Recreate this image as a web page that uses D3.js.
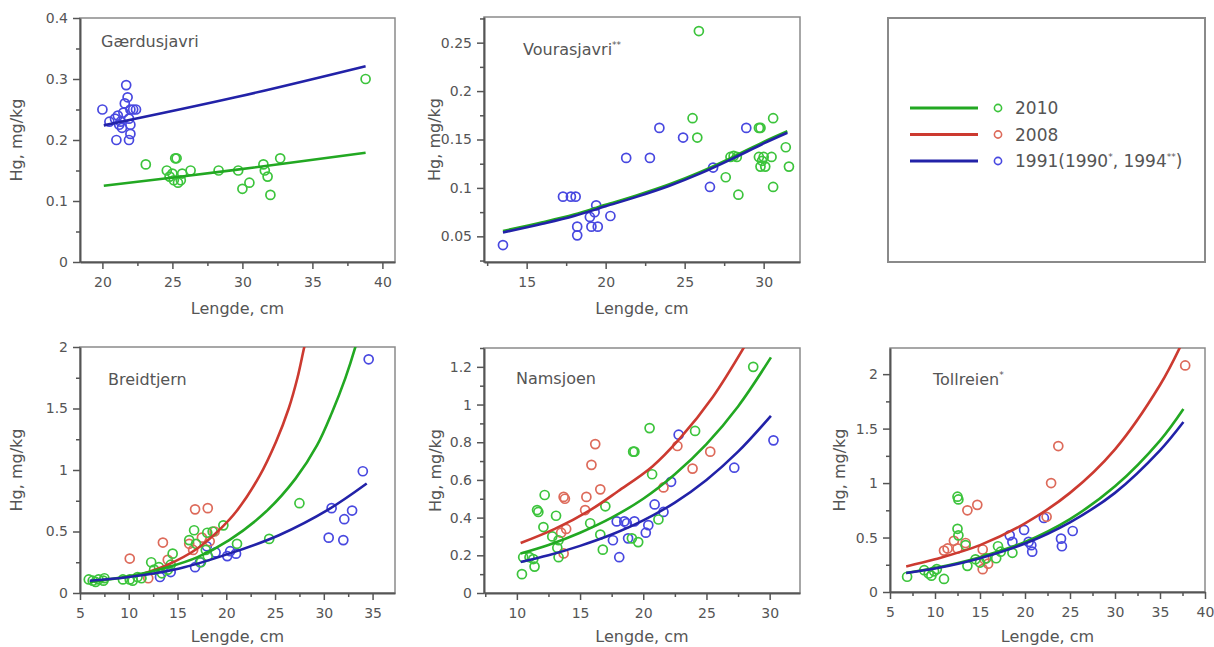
<!DOCTYPE html>
<html><head><meta charset="utf-8">
<script src="https://cdn.jsdelivr.net/npm/d3@7"></script>
<style>
body{margin:0;background:#fff}
svg{display:block;font-family:"DejaVu Sans",Verdana,sans-serif}
</style>
</head><body>
<svg id="chart" width="1214" height="647"></svg>
<script>
// ---------------- DATA ----------------
const seriesNames = ["2010", "2008", "1991(1990*, 1994**)"];

// Gærdusjavri
const gaerXTicks = [20, 25, 30, 35, 40];
const gaerYTicks = [0, 0.1, 0.2, 0.3, 0.4];
const gaer2010 = [[23.1,0.16],[24.6,0.15],[24.8,0.14],[25.0,0.145],[25.1,0.134],[25.2,0.17],[25.3,0.17],[25.4,0.13],[25.6,0.134],[25.7,0.145],[26.3,0.15],[28.3,0.15],[29.7,0.15],[30.0,0.12],[30.5,0.13],[31.5,0.16],[31.6,0.15],[31.8,0.14],[32.0,0.11],[32.7,0.17],[38.8,0.30]];
const gaer1991 = [[20.0,0.25],[20.5,0.23],[20.9,0.235],[21.0,0.20],[21.1,0.24],[21.2,0.225],[21.3,0.23],[21.4,0.22],[21.5,0.245],[21.6,0.26],[21.7,0.29],[21.8,0.27],[21.9,0.20],[21.9,0.235],[22.0,0.21],[22.0,0.25],[22.2,0.25],[22.4,0.25],[22.0,0.225]];
const gaerFit2010 = [[20.1,0.125],[29.5,0.151],[38.8,0.179]];
const gaerFit1991 = [[20.1,0.224],[29.5,0.27],[38.8,0.321]];

// Vourasjavri
const vourXTicks = [15, 20, 25, 30];
const vourYTicks = [0.05, 0.1, 0.15, 0.2, 0.25];
const vour2010 = [[25.5,0.172],[25.8,0.152],[25.9,0.262],[27.6,0.111],[27.9,0.132],[28.1,0.133],[28.3,0.132],[28.4,0.093],[29.7,0.162],[29.8,0.162],[29.7,0.132],[29.8,0.122],[29.9,0.128],[30.0,0.132],[30.1,0.122],[30.5,0.132],[30.6,0.172],[30.6,0.101],[31.4,0.142],[31.6,0.122]];
const vour1994 = [[13.5,0.041],[17.3,0.091],[17.8,0.091],[18.1,0.091],[18.2,0.060],[18.2,0.051],[19.0,0.070],[19.1,0.060],[19.3,0.075],[19.4,0.082],[19.5,0.060],[20.3,0.071],[21.3,0.131],[22.8,0.131],[23.4,0.162],[24.9,0.152],[26.6,0.101],[26.8,0.121],[28.9,0.162]];
const vourFit2010 = [[13.5,0.0555],[16,0.0645],[18,0.0725],[20,0.0825],[22,0.0925],[24,0.1035],[26,0.1165],[28,0.1315],[30,0.1475],[31.5,0.1585]];
const vourFit1994 = [[13.5,0.054],[16,0.063],[18,0.071],[20,0.081],[22,0.091],[24,0.102],[26,0.115],[28,0.130],[30,0.146],[31.5,0.157]];

// Breidtjern
const breiXTicks = [5, 10, 15, 20, 25, 30, 35];
const breiYTicks = [0, 0.5, 1, 1.5, 2];
const brei2010 = [[5.9,0.11],[6.3,0.10],[6.6,0.09],[6.9,0.11],[7.4,0.10],[7.5,0.12],[9.4,0.11],[10.1,0.11],[10.4,0.10],[10.9,0.13],[11.3,0.12],[12.3,0.25],[12.6,0.19],[13.1,0.21],[13.4,0.16],[14.0,0.19],[14.3,0.23],[14.5,0.32],[16.2,0.43],[16.7,0.51],[16.9,0.40],[17.4,0.25],[17.9,0.35],[18.05,0.49],[18.1,0.30],[18.6,0.50],[19.7,0.55],[21.1,0.40],[24.4,0.44],[27.5,0.73]];
const brei2008 = [[10.1,0.28],[12.0,0.12],[13.5,0.41],[14.0,0.27],[16.2,0.40],[16.6,0.35],[16.8,0.68],[17.5,0.45],[18.1,0.69],[18.3,0.42],[18.8,0.50]];
const brei1991 = [[13.2,0.13],[14.3,0.17],[16.8,0.21],[17.3,0.25],[18.0,0.38],[18.9,0.33],[20.1,0.30],[20.4,0.34],[21.0,0.32],[30.5,0.45],[30.8,0.69],[32.0,0.43],[32.1,0.60],[32.9,0.67],[34.0,0.99],[34.6,1.90]];
const breiFit2010 = [[6,0.09],[10,0.135],[14,0.21],[17,0.29],[20.3,0.43],[24.05,0.66],[27.1,0.93],[29.3,1.2],[30.85,1.47],[32.2,1.745],[33.2,1.99],[33.4,2.05]];
const breiFit2008 = [[11.4,0.155],[14,0.23],[17,0.36],[19.5,0.53],[21,0.66],[23.4,0.95],[25.1,1.23],[26.4,1.5],[27.3,1.75],[28.0,2.0],[28.2,2.06]];
const breiFit1991 = [[6,0.1],[10,0.13],[15.2,0.2],[20.3,0.32],[25.4,0.47],[30.5,0.68],[34.4,0.89]];

// Namsjøen
const namsXTicks = [10, 15, 20, 25, 30];
const namsYTicks = [0, 0.2, 0.4, 0.6, 0.8, 1, 1.2];
const nams2010 = [[10.4,0.10],[10.5,0.19],[11.0,0.19],[11.3,0.18],[11.4,0.14],[11.6,0.44],[11.7,0.43],[12.1,0.35],[12.2,0.52],[12.8,0.30],[13.1,0.41],[13.2,0.24],[13.3,0.19],[13.3,0.28],[15.8,0.37],[16.6,0.31],[16.8,0.23],[17.0,0.46],[19.1,0.29],[19.2,0.75],[19.3,0.75],[19.6,0.27],[20.5,0.875],[20.7,0.63],[21.2,0.39],[24.1,0.86],[28.7,1.20]];
const nams2008 = [[13.5,0.32],[13.7,0.21],[13.7,0.51],[13.8,0.50],[13.9,0.34],[15.4,0.44],[15.5,0.51],[15.9,0.68],[16.2,0.79],[16.6,0.55],[21.6,0.56],[22.7,0.78],[23.9,0.66],[25.3,0.75]];
const nams1991 = [[17.6,0.28],[17.9,0.38],[18.1,0.19],[18.5,0.38],[18.7,0.37],[18.8,0.29],[19.3,0.38],[20.2,0.32],[20.4,0.36],[20.9,0.47],[21.6,0.43],[22.2,0.59],[22.8,0.84],[27.2,0.665],[30.3,0.81]];
const namsFit2010 = [[10.3,0.21],[12.5,0.255],[15,0.32],[17.5,0.40],[20,0.50],[22.5,0.63],[25,0.79],[27.5,0.99],[30.1,1.25]];
const namsFit2008 = [[10.3,0.265],[13,0.34],[15.8,0.44],[18,0.54],[20.7,0.67],[22.9,0.82],[25.5,1.04],[28.2,1.33]];
const namsFit1991 = [[10.3,0.165],[12.5,0.20],[15,0.25],[17.5,0.31],[20,0.385],[22.5,0.48],[25,0.60],[27.5,0.75],[30.1,0.94]];

// Tollreien
const tollXTicks = [5, 10, 15, 20, 25, 30, 35, 40];
const tollYTicks = [0, 0.5, 1, 1.5, 2];
const toll2010 = [[6.9,0.14],[8.8,0.20],[9.3,0.17],[9.6,0.15],[9.9,0.19],[10.2,0.21],[11.0,0.12],[12.5,0.875],[12.6,0.85],[12.5,0.58],[12.6,0.52],[13.4,0.43],[13.6,0.24],[14.5,0.30],[15.0,0.27],[15.7,0.31],[16.8,0.31],[17.0,0.42],[17.3,0.37],[18.6,0.36]];
const toll2008 = [[11.0,0.38],[11.4,0.40],[12.1,0.47],[12.5,0.40],[13.4,0.45],[13.6,0.75],[14.7,0.80],[15.3,0.39],[15.3,0.21],[15.5,0.30],[15.9,0.26],[22.4,0.69],[22.9,1.0],[23.7,1.34],[37.8,2.08]];
const toll1990 = [[18.3,0.52],[18.6,0.46],[19.9,0.57],[20.4,0.46],[20.7,0.43],[20.8,0.37],[22.1,0.68],[24.0,0.49],[24.1,0.42],[25.3,0.56]];
const tollFit2010 = [[6.8,0.175],[10,0.22],[15,0.32],[20,0.46],[25,0.67],[30,0.97],[35,1.39],[37.6,1.68]];
const tollFit2008 = [[6.8,0.235],[10,0.30],[15,0.43],[20,0.63],[25,0.91],[30,1.31],[35,1.90],[37.3,2.26]];
const tollFit1990 = [[6.8,0.175],[10,0.215],[15,0.31],[20,0.445],[25,0.64],[30,0.91],[35,1.30],[37.6,1.56]];

// ---------------- STYLE / LAYOUT ----------------
const colors = {
  g: {line: "#22a822", mark: "#3cc43c"},
  r: {line: "#cc3a30", mark: "#dd6a5a"},
  b: {line: "#2222a8", mark: "#4848e0"}
};

const panels = [
  {title: "Gærdusjavri", sup: "", box: [80, 18, 395, 262], xd: [18.4, 40.9], yd: [0, 0.4],
   xt: gaerXTicks, yt: gaerYTicks, xm: 2.5, ym: 0.05, tp: [101, 47], ytx: 16, xto: 52,
   pts: [["b", gaer1991], ["g", gaer2010]], fits: [["g", gaerFit2010], ["b", gaerFit1991]]},
  {title: "Vourasjavri", sup: "**", box: [484, 17, 800, 262], xd: [12.3, 32.3], yd: [0.0235, 0.2765],
   xt: vourXTicks, yt: vourYTicks, xm: 2.5, ym: 0.025, tp: [523, 55], ytx: 434, xto: 52,
   pts: [["b", vour1994], ["g", vour2010]], fits: [["g", vourFit2010], ["b", vourFit1994]]},
  {title: "Breidtjern", sup: "", box: [80, 347, 395, 593], xd: [5, 37.3], yd: [0, 2],
   xt: breiXTicks, yt: breiYTicks, xm: 2.5, ym: 0.25, tp: [108, 385], ytx: 16, xto: 49,
   pts: [["b", brei1991], ["r", brei2008], ["g", brei2010]], fits: [["r", breiFit2008], ["g", breiFit2010], ["b", breiFit1991]]},
  {title: "Namsjoen", sup: "", box: [484, 348, 800, 593], xd: [7.4, 32.4], yd: [0, 1.3],
   xt: namsXTicks, yt: namsYTicks, xm: 2.5, ym: 0.1, tp: [516, 384], ytx: 435, xto: 49,
   pts: [["b", nams1991], ["r", nams2008], ["g", nams2010]], fits: [["r", namsFit2008], ["g", namsFit2010], ["b", namsFit1991]]},
  {title: "Tollreien", sup: "*", box: [890, 348, 1205, 592], xd: [5, 40], yd: [0, 2.24],
   xt: tollXTicks, yt: tollYTicks, xm: 2.5, ym: 0.25, tp: [933, 385], ytx: 839, xto: 50,
   pts: [["b", toll1990], ["r", toll2008], ["g", toll2010]], fits: [["r", tollFit2008], ["g", tollFit2010], ["b", tollFit1990]]}
];

const svg = d3.select("#chart");
const fmt = d3.format("~g");
const textCol = "#555";

function minorVals(d, step, majors) {
  const out = [];
  const k0 = Math.ceil(d[0] / step - 1e-9), k1 = Math.floor(d[1] / step + 1e-9);
  for (let k = k0; k <= k1; k++) {
    const v = +(k * step).toFixed(6);
    if (!majors.some(m => Math.abs(m - v) < 1e-9)) out.push(v);
  }
  return out;
}

panels.forEach((p, i) => {
  const [x0, y0, x1, y1] = p.box;
  const x = d3.scaleLinear().domain(p.xd).range([x0, x1]);
  const y = d3.scaleLinear().domain(p.yd).range([y1, y0]);
  const g = svg.append("g");

  g.append("rect").attr("x", x0).attr("y", y0).attr("width", x1 - x0).attr("height", y1 - y0)
    .attr("fill", "none").attr("stroke", "#8a8a8a").attr("stroke-width", 1.5);

  const clipId = "clip" + i;
  g.append("clipPath").attr("id", clipId).append("rect")
    .attr("x", x0).attr("y", y0).attr("width", x1 - x0).attr("height", y1 - y0);

  const styleAxis = sel => {
    sel.selectAll("path.domain").attr("stroke", "#555").attr("stroke-width", 2);
    sel.selectAll(".tick line").attr("stroke", "#555").attr("stroke-width", 1.5);
    sel.selectAll(".tick text").attr("fill", textCol).style("font-size", "14px")
      .style("font-family", '"DejaVu Sans",Verdana,sans-serif');
  };
  g.append("g").attr("transform", `translate(0,${y1})`)
    .call(d3.axisBottom(x).tickValues(minorVals(p.xd, p.xm, p.xt)).tickSize(4).tickSizeOuter(0).tickFormat(""))
    .call(styleAxis).select("path.domain").remove();
  g.append("g").attr("transform", `translate(${x0},0)`)
    .call(d3.axisLeft(y).tickValues(minorVals(p.yd, p.ym, p.yt)).tickSize(4).tickSizeOuter(0).tickFormat(""))
    .call(styleAxis).select("path.domain").remove();
  g.append("g").attr("transform", `translate(0,${y1})`)
    .call(d3.axisBottom(x).tickValues(p.xt.filter(v => v >= p.xd[0] - 1e-9 && v <= p.xd[1] + 1e-9))
      .tickSize(7).tickSizeOuter(0).tickPadding(8).tickFormat(fmt))
    .call(styleAxis);
  g.append("g").attr("transform", `translate(${x0},0)`)
    .call(d3.axisLeft(y).tickValues(p.yt).tickSize(7).tickSizeOuter(0).tickPadding(5).tickFormat(fmt))
    .call(styleAxis);

  g.append("text").attr("x", (x0 + x1) / 2).attr("y", y1 + p.xto).attr("text-anchor", "middle")
    .attr("fill", textCol).style("font-size", "16px").text("Lengde, cm");
  g.append("text").attr("transform", `translate(${p.ytx},${(y0 + y1) / 2}) rotate(-90)`)
    .attr("text-anchor", "middle").attr("dy", "0.35em")
    .attr("fill", textCol).style("font-size", "16px").text("Hg, mg/kg");

  const t = g.append("text").attr("x", p.tp[0]).attr("y", p.tp[1]).attr("fill", textCol)
    .style("font-size", "16px").text(p.title);
  if (p.sup) t.append("tspan").attr("dy", "-7").style("font-size", "9px").text(p.sup);

  const plot = g.append("g").attr("clip-path", `url(#${clipId})`);
  p.pts.forEach(([c, arr]) => {
    plot.append("g").selectAll("circle").data(arr).join("circle")
      .attr("cx", d => x(d[0])).attr("cy", d => y(d[1])).attr("r", 4.5)
      .attr("fill", "none").attr("stroke", colors[c].mark).attr("stroke-width", 1.7);
  });
  const line = d3.line().x(d => x(d[0])).y(d => y(d[1])).curve(d3.curveCatmullRom.alpha(0.5));
  p.fits.forEach(([c, arr]) => {
    plot.append("path").datum(arr).attr("d", line).attr("fill", "none")
      .attr("stroke", colors[c].line).attr("stroke-width", 2.6);
  });
});

// ---------------- LEGEND ----------------
const lg = svg.append("g");
lg.append("rect").attr("x", 888).attr("y", 18).attr("width", 317).attr("height", 244)
  .attr("fill", "none").attr("stroke", "#8a8a8a").attr("stroke-width", 2);
const legendKeys = ["g", "r", "b"];
const ly = d3.scalePoint().domain(seriesNames).range([108, 161]);
seriesNames.forEach((name, i) => {
  const c = colors[legendKeys[i]];
  const yy = ly(name);
  lg.append("line").attr("x1", 910).attr("x2", 978).attr("y1", yy).attr("y2", yy)
    .attr("stroke", c.line).attr("stroke-width", 3);
  lg.append("circle").attr("cx", 998).attr("cy", yy).attr("r", 3.6)
    .attr("fill", "none").attr("stroke", c.mark).attr("stroke-width", 1.6);
  const t = lg.append("text").attr("x", 1015).attr("y", yy).attr("dy", "0.36em")
    .attr("fill", textCol).style("font-size", "17px");
  if (i < 2) t.text(name);
  else {
    t.append("tspan").text("1991(1990");
    t.append("tspan").attr("dy", -7).style("font-size", "9px").text("*");
    t.append("tspan").attr("dy", 7).text(", 1994");
    t.append("tspan").attr("dy", -7).style("font-size", "9px").text("**");
    t.append("tspan").attr("dy", 7).text(")");
  }
});
</script>
</body></html>
